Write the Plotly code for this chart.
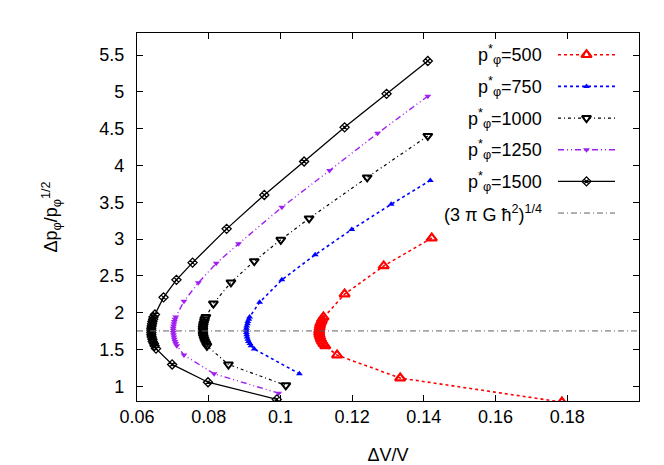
import plotly.graph_objects as go

# ---------------- data ----------------
CLUSTER_Y = [1.94, 1.91, 1.88, 1.85, 1.82, 1.79, 1.76, 1.73, 1.70, 1.67, 1.64, 1.61, 1.58, 1.55]

X_500 = [0.1422, 0.1288, 0.1179,
         0.1120, 0.1116, 0.1114, 0.1111, 0.1110, 0.1109, 0.1108, 0.1108, 0.1109, 0.1111, 0.1113, 0.1116, 0.1120, 0.1125,
         0.1158, 0.1334, 0.1785]
Y_500 = [3.014, 2.635, 2.253] + CLUSTER_Y + [1.423, 1.112, 0.785]

X_750 = [0.1418, 0.1309, 0.1199, 0.1097, 0.1004, 0.0942,
         0.0914, 0.0912, 0.0909, 0.0908, 0.0906, 0.0905, 0.0905, 0.0905, 0.0906, 0.0907, 0.0909, 0.0911, 0.0915, 0.0918,
         0.0927, 0.1053]
Y_750 = [3.797, 3.473, 3.131, 2.788, 2.446, 2.142] + CLUSTER_Y + [1.506, 1.170]

X_1000 = [0.1411, 0.1242, 0.1080, 0.1001, 0.0927, 0.0862, 0.0813,
          0.0792, 0.0789, 0.0788, 0.0786, 0.0785, 0.0784, 0.0784, 0.0784, 0.0784, 0.0785, 0.0787, 0.0789, 0.0792, 0.0795,
          0.0855, 0.1015]
Y_1000 = [4.401, 3.838, 3.280, 2.990, 2.700, 2.411, 2.124] + CLUSTER_Y + [1.296, 1.013]

X_1250 = [0.1411, 0.1271, 0.1137, 0.1004, 0.0883, 0.0821, 0.0771, 0.0731,
          0.0708, 0.0706, 0.0704, 0.0703, 0.0702, 0.0701, 0.0701, 0.0701, 0.0702, 0.0703, 0.0704, 0.0706, 0.0708, 0.0711,
          0.0731, 0.0815, 0.0995]
Y_1250 = [4.942, 4.437, 3.932, 3.432, 2.935, 2.670, 2.406, 2.155] + CLUSTER_Y + [1.425, 1.170, 0.906]

X_1500 = [0.1411, 0.1296, 0.1179, 0.1066, 0.0955, 0.0850, 0.0755, 0.0710, 0.0674, 0.0650,
          0.0646, 0.0645, 0.0643, 0.0642, 0.0641, 0.0640, 0.0640, 0.0640, 0.0640, 0.0641, 0.0643, 0.0644, 0.0647, 0.0649,
          0.0653, 0.0698, 0.0798, 0.0990]
Y_1500 = [5.420, 4.973, 4.518, 4.054, 3.600, 3.139, 2.680, 2.446, 2.208, 1.975] + CLUSTER_Y + [1.512, 1.297, 1.055, 0.822]

HBAR_LEVEL = 1.752  # (3 pi G hbar^2)^(1/4)

X_RANGE = [0.06, 0.2]
Y_RANGE = [0.8, 5.8]
X_TICKS = [0.06, 0.08, 0.10, 0.12, 0.14, 0.16, 0.18, 0.20]
X_TICK_TEXT = ["0.06", "0.08", "0.1", "0.12", "0.14", "0.16", "0.18", ""]
Y_TICKS = [1, 1.5, 2, 2.5, 3, 3.5, 4, 4.5, 5, 5.5]
Y_TICK_TEXT = ["1", "1.5", "2", "2.5", "3", "3.5", "4", "4.5", "5", "5.5"]

LABELS = ["p<sup>*</sup><sub>φ</sub>=500", "p<sup>*</sup><sub>φ</sub>=750", "p<sup>*</sup><sub>φ</sub>=1000",
          "p<sup>*</sup><sub>φ</sub>=1250", "p<sup>*</sup><sub>φ</sub>=1500",
          "(3 π G ħ<sup>2</sup>)<sup>1/4</sup>"]

# ---------------- styles ----------------
FONT = "Liberation Sans, Arial, Helvetica, sans-serif"
PURPLE = "#a020f0"
STYLES = [
    dict(color="red", dash="dot", width=1.6, symbol="triangle-up-open", size=9, mlw=2.2),
    dict(color="blue", dash="dot", width=1.6, symbol="triangle-up", size=6, mlw=0),
    dict(color="black", dash="3px,3px,1px,3px", width=1.2, symbol="triangle-down-open", size=8, mlw=2.0),
    dict(color=PURPLE, dash="6px,3px,1px,3px,1px,3px", width=1.4, symbol="triangle-down", size=6, mlw=0),
    dict(color="black", dash="solid", width=1.3, symbol="diamond-x-open", size=7, mlw=1.3),
]
SERIES = [(X_500, Y_500), (X_750, Y_750), (X_1000, Y_1000), (X_1250, Y_1250), (X_1500, Y_1500)]

fig = go.Figure()
for (xs, ys), st in zip(SERIES, STYLES):
    fig.add_trace(go.Scatter(
        x=xs, y=ys, mode="lines+markers", showlegend=False,
        line=dict(color=st["color"], dash=st["dash"], width=st["width"]),
        marker=dict(symbol=st["symbol"], size=st["size"], color=st["color"],
                    line=dict(color=st["color"], width=st["mlw"])),
        cliponaxis=True,
    ))

fig.add_trace(go.Scatter(
    x=X_RANGE, y=[HBAR_LEVEL, HBAR_LEVEL], mode="lines", showlegend=False,
    line=dict(color="#606060", dash="6px,3px,1px,3px", width=1.0),
))

# ---------------- custom gnuplot-like key (pixel overlay axes) ----------------
KEY_ROWS = [47, 79, 111, 143, 175, 207]
KEY_TEXT_RIGHT = 536
KEY_LINE = [550, 607]
KEY_MARK = 578.5
key_styles = STYLES + [dict(color="#606060", dash="6px,3px,1px,3px", width=1.0, symbol=None)]
for row, st, lab in zip(KEY_ROWS, key_styles, LABELS):
    fig.add_trace(go.Scatter(
        x=KEY_LINE, y=[row, row], mode="lines", showlegend=False, xaxis="x2", yaxis="y2",
        line=dict(color=st["color"], dash=st["dash"], width=st["width"]), hoverinfo="skip"))
    if st["symbol"]:
        fig.add_trace(go.Scatter(
            x=[KEY_MARK], y=[row], mode="markers", showlegend=False, xaxis="x2", yaxis="y2",
            marker=dict(symbol=st["symbol"], size=st["size"], color=st["color"],
                        line=dict(color=st["color"], width=st["mlw"])), hoverinfo="skip"))
    fig.add_annotation(x=KEY_TEXT_RIGHT, y=row, xref="x2", yref="y2", text=lab,
                       showarrow=False, xanchor="right", yanchor="middle",
                       font=dict(family=FONT, size=18, color="black"))

axis_common = dict(showline=True, linecolor="black", linewidth=1.2, mirror="allticks",
                   ticks="inside", ticklen=6, tickcolor="black", tickwidth=1,
                   showgrid=False, zeroline=False,
                   tickfont=dict(family=FONT, size=18, color="black"))

fig.update_layout(
    width=664, height=465,
    margin=dict(l=129, r=33, t=25, b=68),
    paper_bgcolor="white", plot_bgcolor="white",
    font=dict(family=FONT, size=18, color="black"),
    xaxis=dict(range=X_RANGE, tickvals=X_TICKS, ticktext=X_TICK_TEXT,
               title=dict(text="ΔV/V", font=dict(family=FONT, size=18), standoff=22),
               ticklabelstandoff=-1, **axis_common),
    yaxis=dict(range=Y_RANGE, tickvals=Y_TICKS, ticktext=Y_TICK_TEXT,
               title=dict(text="Δp<sub>φ</sub>/p<sub>φ</sub><sup>1/2</sup>",
                          font=dict(family=FONT, size=18), standoff=36),
               ticklabelstandoff=8, **axis_common),
    xaxis2=dict(range=[129, 631], overlaying="x", anchor="y2", visible=False,
                showticklabels=False, fixedrange=True),
    yaxis2=dict(range=[397, 25], overlaying="y", anchor="x2", visible=False,
                showticklabels=False, fixedrange=True),
    showlegend=False,
)

fig.write_html("out.html")
